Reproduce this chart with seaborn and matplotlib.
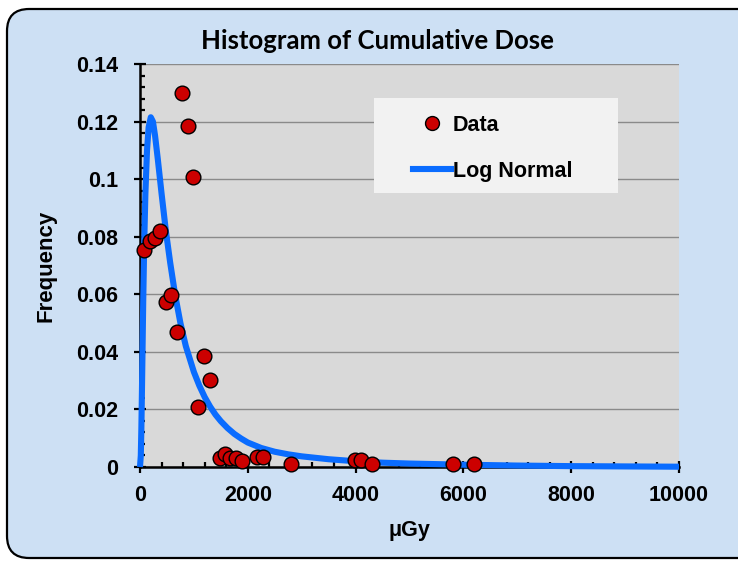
import matplotlib
matplotlib.use("Agg")
import matplotlib.pyplot as plt
import seaborn as sns
import pandas as pd
from matplotlib.patches import FancyBboxPatch, Rectangle
from matplotlib.lines import Line2D
from matplotlib.ticker import FixedLocator, MultipleLocator

# ---- data ----
dose_pts = [80, 180, 280, 380, 480, 580, 690, 780, 885, 990, 1085, 1190, 1290,
            1475, 1580, 1670, 1780, 1900, 2170, 2290, 2800, 3985, 4100, 4300, 5800, 6200]
freq_pts = [0.0755, 0.0785, 0.0797, 0.0820, 0.0573, 0.0597, 0.0468, 0.1300, 0.1185, 0.1008,
            0.0207, 0.0387, 0.0303, 0.0032, 0.0045, 0.0033, 0.0033, 0.0022, 0.0035, 0.0035,
            0.0011, 0.0023, 0.0023, 0.0011, 0.0011, 0.0011]

# log normal curve, traced point by point
curve_x = [0, 15, 25, 35, 45, 60, 80, 100, 130, 160, 200, 240, 280, 330, 400, 480,
           560, 650, 750, 850, 900, 1000, 1100, 1200, 1300, 1400, 1500, 1625, 1750,
           1875, 2000, 2250, 2500, 2750, 3000, 3500, 4000, 4500, 5000, 6000, 7000,
           8000, 9000, 10000]
curve_y = [0.0, 0.004, 0.013, 0.025, 0.038, 0.058, 0.079, 0.095, 0.110, 0.118, 0.1215,
           0.120, 0.115, 0.107, 0.095, 0.082, 0.071, 0.060, 0.050, 0.042, 0.039, 0.033,
           0.0283, 0.0243, 0.0210, 0.0182, 0.0159, 0.0135, 0.0115, 0.0099, 0.0085,
           0.0066, 0.0053, 0.0044, 0.0037, 0.0027, 0.0020, 0.0015, 0.0012, 0.0008,
           0.0005, 0.0003, 0.0002, 0.0001]

x_ticks = [0, 2000, 4000, 6000, 8000, 10000]
y_ticks = [0, 0.02, 0.04, 0.06, 0.08, 0.1, 0.12, 0.14]

pts = pd.DataFrame({"dose": dose_pts, "freq": freq_pts})
fit = pd.DataFrame({"dose": curve_x, "freq": curve_y})

# ---- figure ----
plt.rcParams["font.family"] = ["Liberation Sans", "DejaVu Sans"]
plt.rcParams["font.weight"] = "bold"

fig = plt.figure(figsize=(7.38, 5.61), dpi=100, facecolor="white")
W, H = 738, 561

# rounded light-blue chart area (behind the axes)
bg = FancyBboxPatch((7 / W, 1 - 558 / H), 760 / W, (558 - 9) / H,
                    boxstyle="round,pad=0,rounding_size=0.03",
                    transform=fig.transFigure, facecolor="#cde0f4",
                    edgecolor="black", linewidth=1.6, mutation_aspect=W / H,
                    zorder=-10)
fig.patches.append(bg)

ax = fig.add_axes([140 / W, 1 - 467 / H, 539 / W, 403 / H])
ax.set_zorder(1)
ax.set_facecolor("#d9d9d9")

blue = "#0a6cff"
red = "#cc0000"

sns.lineplot(data=fit, x="dose", y="freq", color=blue, linewidth=4.4,
             sort=False, estimator=None, ax=ax, zorder=3)
for ln in ax.lines:
    ln.set_clip_on(False)
    ln.set_solid_capstyle("butt")
    ln.set_solid_joinstyle("round")

sns.scatterplot(data=pts, x="dose", y="freq", color=red, edgecolor="black",
                linewidth=1.0, s=112, ax=ax, zorder=4, clip_on=False, legend=False)

ax.set_xlim(0, 10000)
ax.set_ylim(0, 0.14)
ax.xaxis.set_major_locator(FixedLocator(x_ticks))
ax.xaxis.set_minor_locator(MultipleLocator(400))
ax.yaxis.set_major_locator(FixedLocator(y_ticks))
ax.yaxis.set_minor_locator(MultipleLocator(0.004))
ax.set_xticklabels([f"{v:g}" for v in x_ticks])
ax.set_yticklabels([f"{v:g}" for v in y_ticks])

ax.grid(axis="y", which="major", color="#8a8a8a", linewidth=1.0, zorder=1)
ax.set_axisbelow(True)
for s in ["top", "right"]:
    ax.spines[s].set_visible(False)
for s in ["left", "bottom"]:
    ax.spines[s].set_linewidth(1.8)
    ax.spines[s].set_color("black")

ax.tick_params(which="major", direction="inout", length=8, width=1.6,
               labelsize=15.5, colors="black")
ax.tick_params(axis="y", which="major", pad=12)
ax.tick_params(axis="x", which="major", pad=9)
ax.tick_params(which="minor", direction="in", length=3.5, width=1.6, colors="black")
for lab in ax.get_xticklabels() + ax.get_yticklabels():
    lab.set_fontweight("bold")

ax.set_xlabel("μGy", fontsize=15.5, fontweight="bold", labelpad=10)
ax.set_ylabel("Frequency", fontsize=16, fontweight="bold", labelpad=14)

fig.text(377 / W, 1 - 41 / H, "Histogram of Cumulative Dose", ha="center",
         va="center", fontsize=18.5, fontweight="bold",
         family=["Lato", "DejaVu Sans"])

# legend panel
ax.add_patch(Rectangle(((374 - 140) / 539, (467 - 193) / 403), 244 / 539, 95 / 403,
                       transform=ax.transAxes, facecolor="#f2f2f2",
                       edgecolor="none", zorder=2.2))
handles = [
    Line2D([], [], marker="o", linestyle="none", markerfacecolor=red,
           markeredgecolor="black", markeredgewidth=1.0, markersize=10),
    Line2D([], [], color=blue, linewidth=4.4),
]
leg = ax.legend(handles, ["Data", "Log Normal"], loc="upper left",
                bbox_to_anchor=((413 - 140) / 539, (467 - 115) / 403),
                frameon=False, borderpad=0, borderaxespad=0,
                handlelength=1.75, handletextpad=0.1, labelspacing=1.15,
                prop={"size": 15.5, "weight": "bold"})
leg.set_zorder(5)

fig.savefig("out.png", dpi=100, facecolor="white")
